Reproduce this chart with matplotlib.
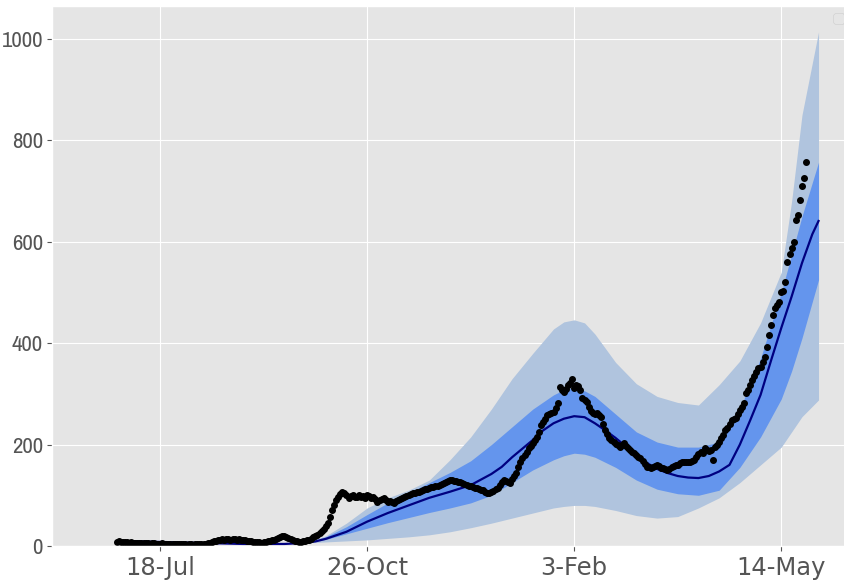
import numpy as np
import pandas as pd
import matplotlib
matplotlib.use("Agg")
import matplotlib.pyplot as plt
from matplotlib import font_manager

plt.style.use("ggplot")

# day 0 = 18-Jul-2020
ORIGIN = pd.Timestamp("2020-07-18")

# observed daily values, day -21 .. 312
obs_start = -21
observed = (
    [8, 9, 8, 7, 8, 7, 6, 7, 6, 6, 5, 6, 5, 5, 6, 5, 4, 5, 5, 4, 4]
    + [4, 5, 4, 3, 4, 3, 3, 4, 3, 3, 4, 3, 3, 2, 3, 3, 2, 3, 3, 3]
    + [3, 4, 4, 5, 6, 7, 9, 10, 11, 12]
    + [13, 12, 14, 13, 12, 13, 14, 12, 13, 12]
    + [11, 12, 10, 9, 10, 8, 7, 8, 7, 6]
    + [7, 8, 9, 10, 11, 12, 14, 15, 17, 19]
    + [20, 18, 15, 13, 11, 10, 9, 8, 8, 9]
    + [10, 11, 12, 14, 17, 19, 22, 25, 29, 33]
    + [40, 45, 57, 70, 80, 90, 97, 102, 107, 105]
    + [101, 95, 98, 101, 97, 96, 101, 97, 99, 94]
    + [101, 98, 95, 97, 92, 87, 90, 93, 95, 91]
    + [87, 89, 86, 85, 88, 91, 93, 95, 97, 99]
    + [101, 103, 105, 104, 106, 107, 109, 110, 112, 113]
    + [115, 116, 117, 118, 118, 120, 122, 124, 126, 128]
    + [130, 131, 129, 128, 127, 126, 124, 122, 120, 119]
    + [118, 117, 115, 114, 112, 111, 110, 107, 104, 104]
    + [106, 109, 112, 114, 120, 126, 130, 128, 126, 124]
    + [132, 138, 144, 155, 165, 173, 180, 186, 193, 198]
    + [204, 210, 215, 225, 239, 245, 250, 258, 260, 262]
    + [264, 272, 282, 314, 308, 304, 310, 317, 322, 329]
    + [312, 318, 315, 308, 292, 288, 284, 275, 266, 262]
    + [260, 262, 258, 254, 240, 229, 220, 212, 209, 205]
    + [201, 199, 196, 200, 203, 198, 193, 190, 186, 183]
    + [180, 176, 173, 168, 162, 156, 155, 154, 156, 158]
    + [160, 157, 154, 153, 152, 150, 152, 155, 157, 160]
    + [160, 164, 165, 166, 165, 166, 166, 168, 170, 176]
    + [182, 185, 183, 193, 190, 187, 189, 170, 195, 200]
    + [205, 212, 219, 229, 233, 240, 248, 250, 252, 260]
    + [268, 275, 282, 302, 308, 318, 327, 335, 343, 351]
    + [353, 362, 373, 393, 416, 436, 456, 469, 475, 481]
    + [501, 503, 521, 560, 575, 588, 600, 643, 653, 682]
    + [710, 726, 757]
)

# model median
model_days = [-20, -10, 0, 10, 20, 30, 40, 50, 60, 70, 75, 80, 90, 100, 110, 120,
              130, 140, 150, 160, 165, 170, 175, 180, 185, 190, 195, 200, 205,
              210, 215, 220, 225, 230, 235, 240, 245, 250, 255, 260, 265, 270,
              275, 280, 285, 290, 295, 300, 305, 310, 315, 318]
model_mid = [10, 9, 8, 7, 6, 5, 4, 4, 4, 6, 9, 14, 28, 48, 65, 80,
             95, 107, 120, 142, 156, 175, 192, 209, 228, 242, 251, 256, 254,
             242, 228, 213, 196, 180, 164, 152, 144, 138, 135, 134, 138, 147,
             160, 200, 248, 298, 365, 430, 492, 558, 615, 641]

# prediction bands
band_days = [70, 80, 90, 100, 110, 120, 130, 140, 150, 160, 170, 180, 190, 195,
             200, 205, 210, 220, 230, 240, 250, 260, 270, 280, 290, 300, 305,
             310, 318]
outer_hi = [6, 20, 45, 75, 95, 110, 130, 170, 215, 270, 330, 380, 428, 442,
            446, 440, 418, 362, 320, 295, 283, 278, 318, 365, 440, 540, 680,
            850, 1014]
inner_hi = [6, 18, 38, 62, 85, 105, 125, 145, 168, 200, 235, 270, 298, 308,
            312, 306, 295, 260, 225, 205, 195, 195, 205, 270, 370, 500, 575,
            650, 757]
inner_lo = [6, 13, 24, 35, 46, 56, 66, 75, 85, 100, 125, 150, 170, 178,
            183, 181, 175, 155, 130, 112, 103, 100, 110, 155, 215, 290, 345,
            410, 525]
outer_lo = [6, 8, 10, 12, 15, 18, 22, 28, 36, 45, 55, 65, 75, 78,
            80, 80, 78, 70, 60, 55, 58, 75, 95, 125, 160, 195, 225,
            255, 288]

tick_labels = ["18-Jul", "26-Oct", "3-Feb", "14-May"]
ytick_vals = [0, 200, 400, 600, 800, 1000]


def to_dates(days):
    return ORIGIN + pd.to_timedelta(np.asarray(days), unit="D")


# y labels in the reference are narrow: use a narrow face when one exists
names = sorted({f.name for f in font_manager.fontManager.ttflist})
narrow = [n for n in names if "Narrow" in n or "Condensed" in n]
if narrow:
    yfont, ysize = narrow[0], 16.5
else:
    yfont, ysize = "Liberation Sans", 14.5

obs_dates = to_dates(np.arange(obs_start, obs_start + len(observed)))
model_dates = to_dates(model_days)
band_dates = to_dates(band_days)

fig = plt.figure(figsize=(8.44, 5.83), dpi=100)
ax = fig.add_axes([0.0616, 0.0635, 0.947, 0.9262])

ax.fill_between(band_dates, outer_lo, outer_hi, color="lightsteelblue", lw=0)
ax.fill_between(band_dates, inner_lo, inner_hi, color="cornflowerblue", lw=0)
ax.plot(model_dates, model_mid, color="navy", lw=1.6)
ax.plot(obs_dates, observed, "o", color="black", ms=4)

tick_dates = [pd.Timestamp(f"{s}-{y}") for s, y in
              zip(tick_labels, [2020, 2020, 2021, 2021])]
ax.set_xticks(tick_dates)
ax.set_xticklabels(tick_labels, fontsize=17.5, color="#555555")
ax.set_yticks(ytick_vals)
ax.set_yticklabels([str(v) for v in ytick_vals], fontsize=ysize,
                   color="#555555", family=[yfont, "DejaVu Sans"])

ax.set_xlim(to_dates([-52.2])[0], to_dates([333.8])[0])
ax.set_ylim(0, 1065)
ax.tick_params(colors="#555555")
ax.tick_params(axis="y", pad=3)

ax.legend(handles=[], loc="upper right")

fig.savefig("out.png", dpi=100)
